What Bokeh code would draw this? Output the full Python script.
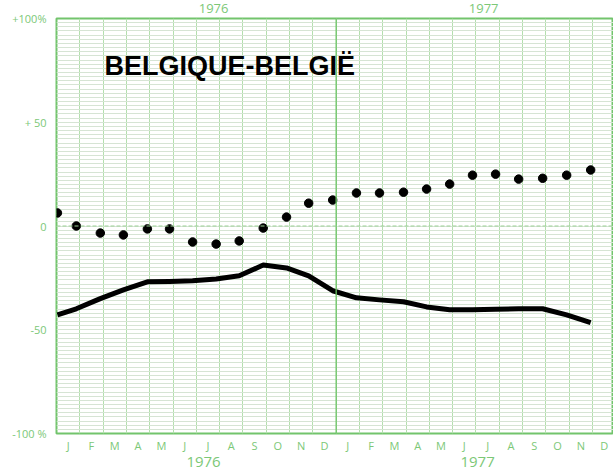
from bokeh.plotting import figure
from bokeh.models import Range1d, FixedTicker, Span, Label, LinearAxis
from bokeh.embed import file_html
from bokeh.resources import INLINE

# ---- data (month index positions: 0 = start of Jan 1976) ----
month_letters = ["J", "F", "M", "A", "M", "J", "J", "A", "S", "O", "N", "D"] * 2
years = ["1976", "1977"]
year_pos_bottom = [6.31, 18.07]
year_pos_top = [6.74, 18.33]
y_ticks = [-100, -50, 0, 50, 100]
y_tick_labels = ["-100 %", "-50", "0", "+ 50", "+100%"]

point_x = [0.04, 0.85, 1.88, 2.87, 3.9, 4.85, 5.84, 6.85, 7.84, 8.87, 9.87, 10.82,
           11.85, 12.87, 13.86, 14.89, 15.88, 16.87, 17.85, 18.84, 19.83, 20.86, 21.89, 22.92]
dots_y = [6.3, 0.0, -3.4, -4.3, -1.4, -1.4, -7.7, -8.7, -7.2, -1.0, 4.3, 11.0,
          12.5, 15.9, 15.9, 16.3, 17.8, 20.2, 24.5, 25.0, 22.6, 23.0, 24.5, 27.0]
line_y = [-42.8, -39.9, -35.0, -30.8, -26.9, -26.7, -26.4, -25.5, -24.0, -18.8, -20.2, -24.0,
          -31.2, -34.6, -35.6, -36.5, -39.0, -40.4, -40.4, -40.1, -39.9, -39.9, -42.8, -46.6]

GREEN = "#72c46c"
GRID_V = "#b3dfad"
GRID_H = "#d6e4d4"
TXT = "#7cc877"

p = figure(width=613, height=469, output_backend="svg", toolbar_location=None,
           x_range=Range1d(0, 23.9), y_range=Range1d(-100, 100),
           min_border_left=56, min_border_right=0, min_border_top=18, min_border_bottom=35,
           background_fill_color="white", border_fill_color="white")

p.outline_line_color = GREEN
p.outline_line_width = 2

# grids
p.xgrid.ticker = FixedTicker(ticks=list(range(1, 24)))
p.xgrid.grid_line_color = GRID_V
p.xgrid.grid_line_width = 1
p.ygrid.ticker = FixedTicker(ticks=list(range(-98, 100, 2)))
p.ygrid.grid_line_color = GRID_H
p.ygrid.grid_line_width = 1
p.add_layout(Span(location=12, dimension="height", line_color="#6cc465", line_width=1.3))
p.add_layout(Span(location=0, dimension="width", line_color="#9ccf96", line_width=1.2, line_dash="4 2"))


def style_axis(ax, size, standoff):
    ax.axis_line_color = None
    ax.major_tick_line_color = None
    ax.minor_tick_line_color = None
    ax.major_label_standoff = standoff
    ax.major_label_text_color = TXT
    ax.major_label_text_font = "Open Sans"
    ax.major_label_text_font_size = size


# x axis: month letters
p.xaxis.ticker = FixedTicker(ticks=[i + 0.5 for i in range(24)])
p.xaxis.major_label_overrides = {i + 0.5: m for i, m in enumerate(month_letters)}
style_axis(p.xaxis[0], "11px", -2)

# bottom year axis
year_axis = LinearAxis(ticker=FixedTicker(ticks=year_pos_bottom),
                       major_label_overrides={x: y for x, y in zip(year_pos_bottom, years)})
style_axis(year_axis, "15px", -5)
p.add_layout(year_axis, "below")

# top year axis
top_axis = LinearAxis(ticker=FixedTicker(ticks=year_pos_top),
                      major_label_overrides={x: y for x, y in zip(year_pos_top, years)})
style_axis(top_axis, "13px", 0)
p.add_layout(top_axis, "above")

# y axis
p.yaxis.ticker = FixedTicker(ticks=y_ticks)
p.yaxis.major_label_overrides = {t: l for t, l in zip(y_ticks, y_tick_labels)}
style_axis(p.yaxis[0], "11px", 4)

# series
p.line(point_x, line_y, line_color="black", line_width=5, line_join="round")
p.scatter(point_x, dots_y, size=8.5, fill_color="black", line_color="black")

# title
p.add_layout(Label(x=2.06, y=76.9, text="BELGIQUE-BELGIË", text_font="Liberation Sans",
                   text_font_style="bold", text_font_size="27px", text_color="black",
                   text_baseline="alphabetic"))

open("out.html", "w").write(file_html(p, INLINE))
